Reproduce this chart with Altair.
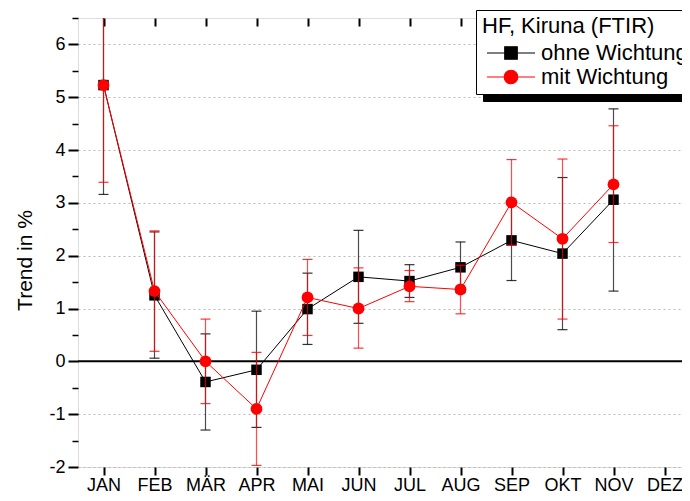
import altair as alt
import pandas as pd

# ---------------- data ----------------
months = ["JAN", "FEB", "MÄR", "APR", "MAI", "JUN", "JUL", "AUG", "SEP", "OKT", "NOV", "DEZ"]
series_names = ["ohne Wichtung", "mit Wichtung"]
legend_title = "HF, Kiruna (FTIR)"
y_title = "Trend in %"

ohne_value = [5.23, 1.25, -0.39, -0.16, 0.99, 1.60, 1.52, 1.78, 2.29, 2.04, 3.06]
ohne_low = [3.16, 0.06, -1.30, -1.25, 0.32, 0.72, 1.21, 1.30, 1.53, 0.60, 1.33]
ohne_high = [7.30, 2.45, 0.52, 0.95, 1.67, 2.48, 1.83, 2.26, 3.03, 3.48, 4.78]

mit_value = [5.23, 1.33, 0.00, -0.90, 1.21, 1.00, 1.42, 1.36, 3.01, 2.32, 3.35]
mit_low = [3.39, 0.19, -0.80, -1.97, 0.49, 0.25, 1.13, 0.90, 2.20, 0.80, 2.25]
mit_high = [7.07, 2.47, 0.80, 0.17, 1.93, 1.77, 1.72, 1.82, 3.82, 3.83, 4.46]

y_domain = [-2, 6.5]
y_major_ticks = [-2, -1, 0, 1, 2, 3, 4, 5, 6]
y_minor_ticks = [-1.5, -0.5, 0.5, 1.5, 2.5, 3.5, 4.5, 5.5, 6.5]
y_all_ticks = sorted(y_major_ticks + y_minor_ticks)
zero_line = [0]
series_colors = ["#000000", "#ff0000"]

# ---------------- tables ----------------
def make_df(name, vals, lows, highs):
    rows = []
    for i, (m, v, lo, hi) in enumerate(zip(months, vals, lows, highs)):
        rows.append({"month": m, "idx": i, "series": name, "shadow": name,
                     "value": v, "low": lo, "high": hi})
    return pd.DataFrame(rows)

df_ohne = make_df(series_names[0], ohne_value, ohne_low, ohne_high)
df_mit = make_df(series_names[1], mit_value, mit_low, mit_high)
df_all = pd.concat([df_ohne, df_mit], ignore_index=True)
df_zero = pd.DataFrame({"y": zero_line})

FONT = "Liberation Sans"
xscale = alt.Scale(type="point", domain=months, padding=0.5)
yscale = alt.Scale(domain=y_domain, nice=False, zero=False)


def X(axis=None):
    return alt.X("month:N", scale=xscale, axis=axis, title=None)


def Y(field, axis=None):
    return alt.Y(field, scale=yscale, axis=axis, title=None)


# ---------------- axes layers ----------------
ax_left_major = alt.Chart(df_all).mark_point(opacity=0).encode(
    x=X(),
    y=alt.Y("value:Q", scale=yscale, title=y_title, axis=alt.Axis(
        orient="left", values=y_major_ticks, grid=True, gridDash=[2, 3],
        gridColor="#b8b8b8", gridWidth=1, domain=False, tickSize=10,
        tickWidth=2, tickColor="black", labelFont=FONT, labelFontSize=18,
        labelColor="black", labelPadding=3, labelExpr="'' + datum.value",
        titleFont=FONT, titleFontSize=21, titleFontWeight="normal",
        titleColor="black", titleX=-47, titleY=242, titleAngle=270,
        titleAlign="center", titleBaseline="alphabetic")),
)
ax_left_minor = alt.Chart(df_all).mark_point(opacity=0).encode(
    x=X(),
    y=Y("value:Q", axis=alt.Axis(orient="left", values=y_minor_ticks, grid=False,
                                 domain=False, labels=False, tickSize=6,
                                 tickWidth=1.5, tickColor="black", title=None)),
)
ax_right = alt.Chart(df_all).mark_point(opacity=0).encode(
    x=X(),
    y=Y("value:Q", axis=alt.Axis(orient="right", values=y_all_ticks, grid=False,
                                 domain=False, labels=False, tickSize=7, offset=-7,
                                 tickWidth=1.5, tickColor="black", title=None)),
)
ax_bottom = alt.Chart(df_all).mark_point(opacity=0).encode(
    x=X(alt.Axis(orient="bottom", labelAngle=0, domain=False, grid=False,
                 tickSize=8, tickWidth=2, tickColor="black", labelFont=FONT,
                 labelFontSize=18, labelColor="black", labelPadding=1, title=None)),
    y=Y("value:Q"),
)
ax_top = alt.Chart(df_all).mark_point(opacity=0).encode(
    x=X(alt.Axis(orient="top", labels=False, domain=False, grid=False,
                 tickSize=8, offset=-8, tickWidth=2, tickColor="black", title=None)),
    y=Y("value:Q"),
)

zero = alt.Chart(df_zero).mark_rule(color="black", strokeWidth=2).encode(
    y=Y("y:Q")
)

# ---------------- series layers ----------------
def series_layers(df, color, shape, size):
    line = alt.Chart(df).mark_line(color=color, strokeWidth=1).encode(
        x=X(), y=Y("value:Q"), order="idx:Q")
    bar = alt.Chart(df).mark_rule(color=color, strokeWidth=1.2, opacity=0.7, clip=True).encode(
        x=X(), y=Y("low:Q"), y2="high:Q")
    cap_lo = alt.Chart(df).mark_tick(color=color, size=10, thickness=1.2, opacity=0.8, clip=True).encode(
        x=X(), y=Y("low:Q"))
    cap_hi = alt.Chart(df).mark_tick(color=color, size=10, thickness=1.2, opacity=0.8, clip=True).encode(
        x=X(), y=Y("high:Q"))
    pts = alt.Chart(df).mark_point(shape=shape, filled=True, size=size, color=color,
                                   opacity=1, clip=True).encode(x=X(), y=Y("value:Q"))
    return [line, bar, cap_lo, cap_hi, pts]

# ---------------- legend carrier ----------------
sq_path = "M-4.8,0H4.8M-1.25,-1.25H1.25V1.25H-1.25Z"
ci_path = "M-4.8,0H4.8M-1.35,0A1.35,1.35,0,1,1,1.35,0A1.35,1.35,0,1,1,-1.35,0Z"

common_leg = dict(
    orient="none", padding=6, titleFont=FONT, titleFontSize=22,
    titleFontWeight="normal", titleColor="black", labelFont=FONT,
    labelFontSize=22, labelColor="black", symbolSize=100,
    symbolStrokeWidth=1.2, symbolOffset=18, labelOffset=19, rowPadding=2,
    titlePadding=4, symbolOpacity=1, labelLimit=400, titleLimit=400,
)
main_leg = alt.Legend(title=legend_title, legendX=398, legendY=-8,
                      fillColor="white", strokeColor="black", zindex=2, **common_leg)
shadow_leg = alt.Legend(title=legend_title, legendX=405, legendY=-1,
                        fillColor="black", strokeColor="black", zindex=1,
                        symbolFillColor="black", symbolStrokeColor="black",
                        **{**common_leg, "labelColor": "black", "titleColor": "black"})

color_scale = alt.Scale(domain=series_names, range=series_colors)
legend_carrier = alt.Chart(df_all).mark_point(filled=True, size=0).encode(
    x=X(), y=Y("value:Q"),
    color=alt.Color("series:N", scale=color_scale, legend=main_leg),
    stroke=alt.Stroke("series:N", scale=color_scale, legend=main_leg),
    shape=alt.Shape("series:N", scale=alt.Scale(domain=series_names, range=[sq_path, ci_path]),
                    legend=main_leg),
    opacity=alt.Opacity("shadow:N", scale=alt.Scale(range=[1, 1]), legend=shadow_leg),
)

layers = [ax_left_major, ax_left_minor, ax_right, ax_bottom, ax_top, zero]
layers += series_layers(df_ohne, series_colors[0], "square", 110)
layers += series_layers(df_mit, series_colors[1], "circle", 140)
layers += [legend_carrier]

chart = alt.layer(*layers).resolve_axis(x="independent", y="independent").properties(
    width=612, height=449,
    autosize=alt.AutoSizeParams(type="none"),
    padding={"left": 70, "top": 10, "right": -8, "bottom": 26},
).configure_view(stroke="black", strokeWidth=2).configure(background="white")

chart.save("out.html", embed_options={"renderer": "svg", "actions": False})
